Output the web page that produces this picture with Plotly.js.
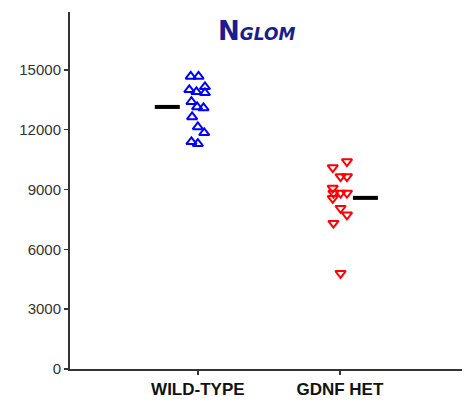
<!DOCTYPE html>
<html>
<head>
<meta charset="utf-8">
<script src="https://cdn.plot.ly/plotly-3.0.1.min.js"></script>
<style>html,body{margin:0;padding:0;background:#fff;}#chart{width:464px;height:406px;}</style>
</head>
<body>
<div id="chart"></div>
<script>
const categories = ["WILD-TYPE", "GDNF HET"];
const yTicks = [0, 3000, 6000, 9000, 12000, 15000];
const yTickText = ["0", "3000", "6000", "9000", "12000", "15000"];
const wtValues = [14670, 14670, 14000, 13900, 14150, 13850, 13400, 13140, 13090, 12640, 12140, 11840, 11390, 11300];
const wtJitter = [-0.05, 0.005, -0.06, -0.01, 0.05, 0.05, -0.045, -0.005, 0.04, -0.04, 0.0, 0.045, -0.045, 0.0];
const hetValues = [10400, 10100, 9650, 9650, 9070, 8820, 8820, 8820, 8560, 8060, 7730, 7310, 4800];
const hetJitter = [0.05, -0.05, 0.005, 0.05, -0.05, -0.045, 0.005, 0.05, -0.05, 0.005, 0.05, -0.045, 0.005];
const means = [13140, 8580];
const meanOffset = [-0.215, 0.18];
const meanHalfWidth = 0.088;

const wtX = wtValues.map((v, i) => 1 + wtJitter[i]);
const hetX = hetValues.map((v, i) => 2 + hetJitter[i]);

const traces = [
  {x: wtX, y: wtValues, type: 'scatter', mode: 'markers',
   marker: {symbol: 'triangle-up-open', size: 9, color: '#0000ff', line: {width: 2, color: '#0000ff'}}},
  {x: hetX, y: hetValues, type: 'scatter', mode: 'markers',
   marker: {symbol: 'triangle-down-open', size: 9, color: '#ff0000', line: {width: 2, color: '#ff0000'}}}
];
means.forEach((m, i) => {
  const c = i + 1 + meanOffset[i];
  traces.push({x: [c - meanHalfWidth, c + meanHalfWidth], y: [m, m], type: 'scatter', mode: 'lines',
    line: {color: '#000', width: 4}});
});

const layout = {
  width: 464, height: 406,
  margin: {l: 70, r: 2, t: 12, b: 37},
  paper_bgcolor: '#fff', plot_bgcolor: '#fff',
  showlegend: false,
  xaxis: {range: [0.1, 2.86], tickvals: [1, 2], ticktext: categories,
    showgrid: false, zeroline: false, showline: true, linecolor: '#333', linewidth: 2,
    ticks: 'outside', ticklen: 4, tickwidth: 1.5, tickcolor: '#333',
    tickfont: {family: 'Liberation Sans, Arial, sans-serif', size: 17, color: '#111', weight: 'bold'}},
  yaxis: {range: [0, 17900], tickvals: yTicks, ticktext: yTickText,
    showgrid: false, zeroline: false, showline: true, linecolor: '#333', linewidth: 2,
    ticks: 'outside', ticklen: 4, tickwidth: 1.5, tickcolor: '#333',
    tickfont: {family: 'Liberation Sans, Arial, sans-serif', size: 15, color: '#333'}},
  annotations: [{
    xref: 'paper', yref: 'paper', x: 0.475, y: 0.995, xanchor: 'center', yanchor: 'top',
    text: '<b><span style="font-size:26px">N</span><i>GLOM</i></b>', showarrow: false,
    font: {family: 'DejaVu Sans, sans-serif', size: 17, color: '#1c1c8f'}
  }]
};
Plotly.newPlot('chart', traces, layout, {displayModeBar: false, staticPlot: true});
</script>
</body>
</html>
